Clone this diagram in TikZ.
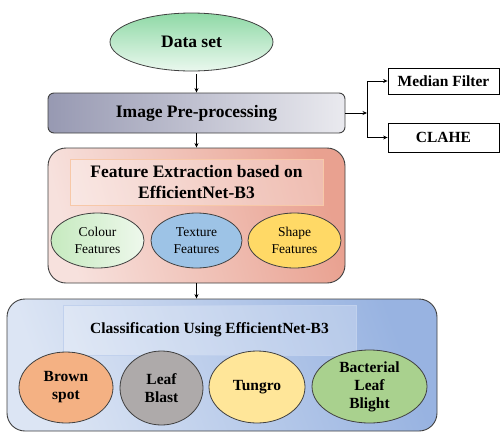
\documentclass[tikz,border=0pt]{standalone}
\usepackage{fontspec}
\setmainfont{Liberation Serif}
\usetikzlibrary{shapes.geometric,arrows.meta}
\definecolor{dsTop}{HTML}{8FD9A6}
\definecolor{dsBot}{HTML}{EAF8EE}
\definecolor{preL}{HTML}{9799B2}
\definecolor{preR}{HTML}{EAEAEF}
\definecolor{featL}{HTML}{F7E1DD}
\definecolor{featR}{HTML}{E9A190}
\definecolor{clsL}{HTML}{DCE5F4}
\definecolor{clsR}{HTML}{98B3E1}
\definecolor{edge}{HTML}{404040}
\definecolor{colL}{HTML}{C6EABF}
\definecolor{colR}{HTML}{EEF8EC}
\definecolor{texC}{HTML}{9DC3E6}
\definecolor{shpC}{HTML}{FFD966}
\definecolor{brnC}{HTML}{F4B183}
\definecolor{blsC}{HTML}{AEAAAA}
\definecolor{tngC}{HTML}{FFE699}
\definecolor{bacC}{HTML}{A9D18E}
\begin{document}
\begin{tikzpicture}[x=1pt,y=-1pt,
  arr/.style={-{Stealth[length=4.5pt,width=4pt]},line width=0.8pt,black},
  ell/.style={ellipse,draw=edge,line width=0.8pt,inner sep=0pt,align=center},
  bigbox/.style={rectangle,rounded corners=18pt,draw=edge,line width=0.9pt,inner sep=0pt},
  sidebox/.style={rectangle,draw=black,line width=0.8pt,inner sep=0pt,fill=white},
  bf/.style={font=\fontsize{15.5}{18}\selectfont\bfseries},
  rf/.style={font=\fontsize{13.5}{16.5}\selectfont}]
\useasboundingbox (0,0) rectangle (501,432);

% Data set
\node[ell,minimum width=163pt,minimum height=58pt,top color=dsTop,bottom color=dsBot,
  font=\fontsize{17.5}{21}\selectfont\bfseries] (ds) at (191.5,42) {Data set};

% Pre-processing
\node[rectangle,rounded corners=6pt,draw=edge,line width=0.9pt,inner sep=0pt,
  minimum width=297pt,minimum height=40pt,left color=preL,right color=preR,
  font=\fontsize{17.5}{21}\selectfont\bfseries] (pre) at (196.5,113) {Image Pre-processing};

% Side boxes
\node[sidebox,minimum width=111pt,minimum height=26pt,bf] (med) at (443.5,81) {Median Filter};
\node[sidebox,minimum width=111pt,minimum height=29pt,bf] (clahe) at (443.5,137.5) {CLAHE};

% Feature extraction
\node[bigbox,minimum width=297pt,minimum height=135pt,
  bottom color=featL,top color=featR,shading angle=-75] (feat) at (196.5,215.5) {};
\node[rectangle,draw=brnC!70,line width=0.8pt,fill=white,fill opacity=0.3,text opacity=1,
  minimum width=253pt,minimum height=46pt,inner sep=0pt,align=center,
  font=\fontsize{17.5}{21}\selectfont\bfseries] (feattitle) at (196.5,182)
  {Feature Extraction based on\\EfficientNet-B3};
\node[ell,minimum width=93pt,minimum height=55pt,left color=colL,right color=colR,rf] (colour) at (97.5,240.5) {Colour\\Features};
\node[ell,minimum width=91pt,minimum height=55pt,fill=texC,rf] (texture) at (196.5,240.5) {Texture\\Features};
\node[ell,minimum width=93pt,minimum height=55pt,fill=shpC,rf] (shape) at (294.5,240.5) {Shape\\Features};

% Classification
\node[bigbox,minimum width=430pt,minimum height=132pt,
  bottom color=clsL,top color=clsR,shading angle=-70] (cls) at (222,365) {};
\node[rectangle,draw=clsR!60,line width=0.8pt,fill=white,fill opacity=0.25,text opacity=1,
  minimum width=293pt,minimum height=50pt,inner sep=0pt,bf] (clstitle) at (209.5,330)
  {Classification Using EfficientNet-B3};
\node[ell,minimum width=94pt,minimum height=71pt,fill=brnC,bf] (brown) at (66,387.5) {Brown\\spot};
\node[ell,minimum width=83pt,minimum height=74pt,fill=blsC,bf] (blast) at (161.5,388) {Leaf\\Blast};
\node[ell,minimum width=96pt,minimum height=72pt,fill=tngC,bf] (tungro) at (257,387) {Tungro};
\node[ell,minimum width=115pt,minimum height=73pt,fill=bacC,bf] (bact) at (369.5,386.5) {Bacterial\\Leaf\\Blight};

% Connectors
\draw[arr] ([yshift=-3pt]pre.north |- ds.south) -- (pre.north);
\draw[arr] (pre.south) -- (feat.north);
\draw[arr] (feat.south) -- (cls.north -| feat.south);
\coordinate (j) at (367,113);
\draw[arr] (pre.east) -- (j);
\draw[arr] (j) |- (med.west);
\draw[arr] (j) |- (clahe.west);
\end{tikzpicture}
\end{document}
